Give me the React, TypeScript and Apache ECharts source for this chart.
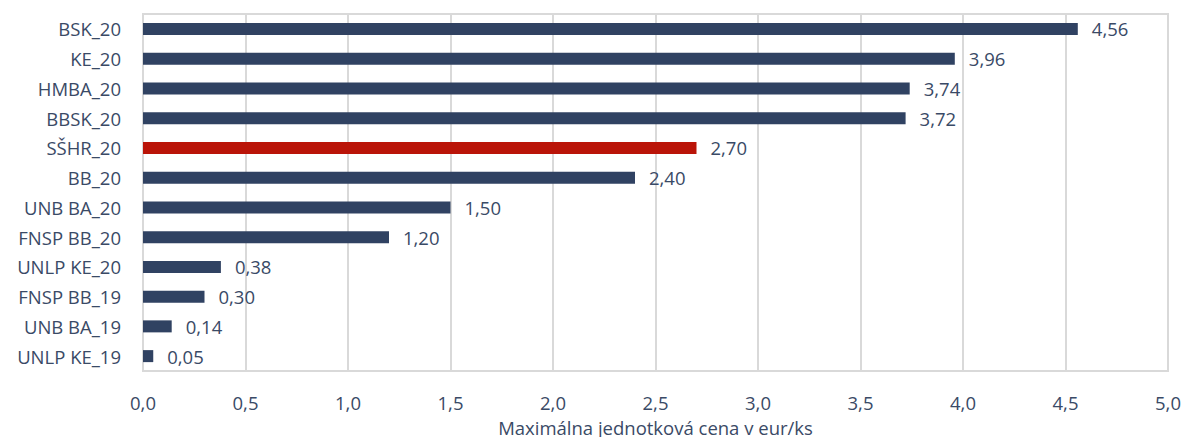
import React, { useEffect, useRef } from "react";
import * as echarts from "echarts";

const categories = [
  "BSK_20", "KE_20", "HMBA_20", "BBSK_20", "SŠHR_20", "BB_20",
  "UNB BA_20", "FNSP BB_20", "UNLP KE_20", "FNSP BB_19", "UNB BA_19", "UNLP KE_19",
];
const values = [4.56, 3.96, 3.74, 3.72, 2.7, 2.4, 1.5, 1.2, 0.38, 0.3, 0.14, 0.05];
const highlighted = ["SŠHR_20"];
const axisTitle = "Maximálna jednotková cena v eur/ks";

const NAVY = "#304262";
const RED = "#BA1408";
const TEXT = "#3A4A66";
const GRID = "#D9D9D9";
const FONT = "'Open Sans', 'Noto Sans', sans-serif";
const FS = 18.5;

export default function App() {
  const ref = useRef<HTMLDivElement>(null);
  useEffect(() => {
    document.body.style.margin = "0";
    const chart = echarts.init(ref.current!, null, { renderer: "svg" });
    const cats = [...categories].reverse();
    const vals = [...values].reverse();
    chart.setOption({
      animation: false,
      grid: {
        left: 143, right: 17, top: 14, bottom: 66,
        outerBoundsMode: "none",
        containLabel: false,
        show: true, borderColor: GRID, borderWidth: 2, backgroundColor: "transparent",
      },
      xAxis: {
        type: "value", min: 0, max: 5, interval: 0.5,
        axisLine: { show: false },
        axisTick: { show: false },
        splitLine: { show: true, lineStyle: { color: GRID, width: 2 } },
        axisLabel: {
          color: TEXT, fontSize: FS, fontFamily: FONT, margin: 22,
          formatter: (v: number) => v.toFixed(1).replace(".", ","),
        },
        name: axisTitle,
        nameLocation: "middle",
        nameGap: 47,
        nameTextStyle: { color: TEXT, fontSize: FS, fontFamily: FONT },
      },
      yAxis: {
        type: "category", data: cats,
        axisLine: { show: true, lineStyle: { color: GRID, width: 2 } },
        axisTick: { show: false },
        axisLabel: { color: TEXT, fontSize: FS, fontFamily: FONT, margin: 22 },
      },
      series: [{
        type: "bar",
        barWidth: 12,
        data: vals.map((v, i) => ({
          value: v,
          itemStyle: { color: highlighted.includes(cats[i]) ? RED : NAVY },
        })),
        label: {
          show: true, position: "right", distance: 14,
          color: TEXT, fontSize: FS, fontFamily: FONT,
          formatter: (p: any) => p.value.toFixed(2).replace(".", ","),
        },
      }],
    });
    return () => chart.dispose();
  }, []);
  return <div ref={ref} style={{ width: 1185, height: 437 }} />;
}
